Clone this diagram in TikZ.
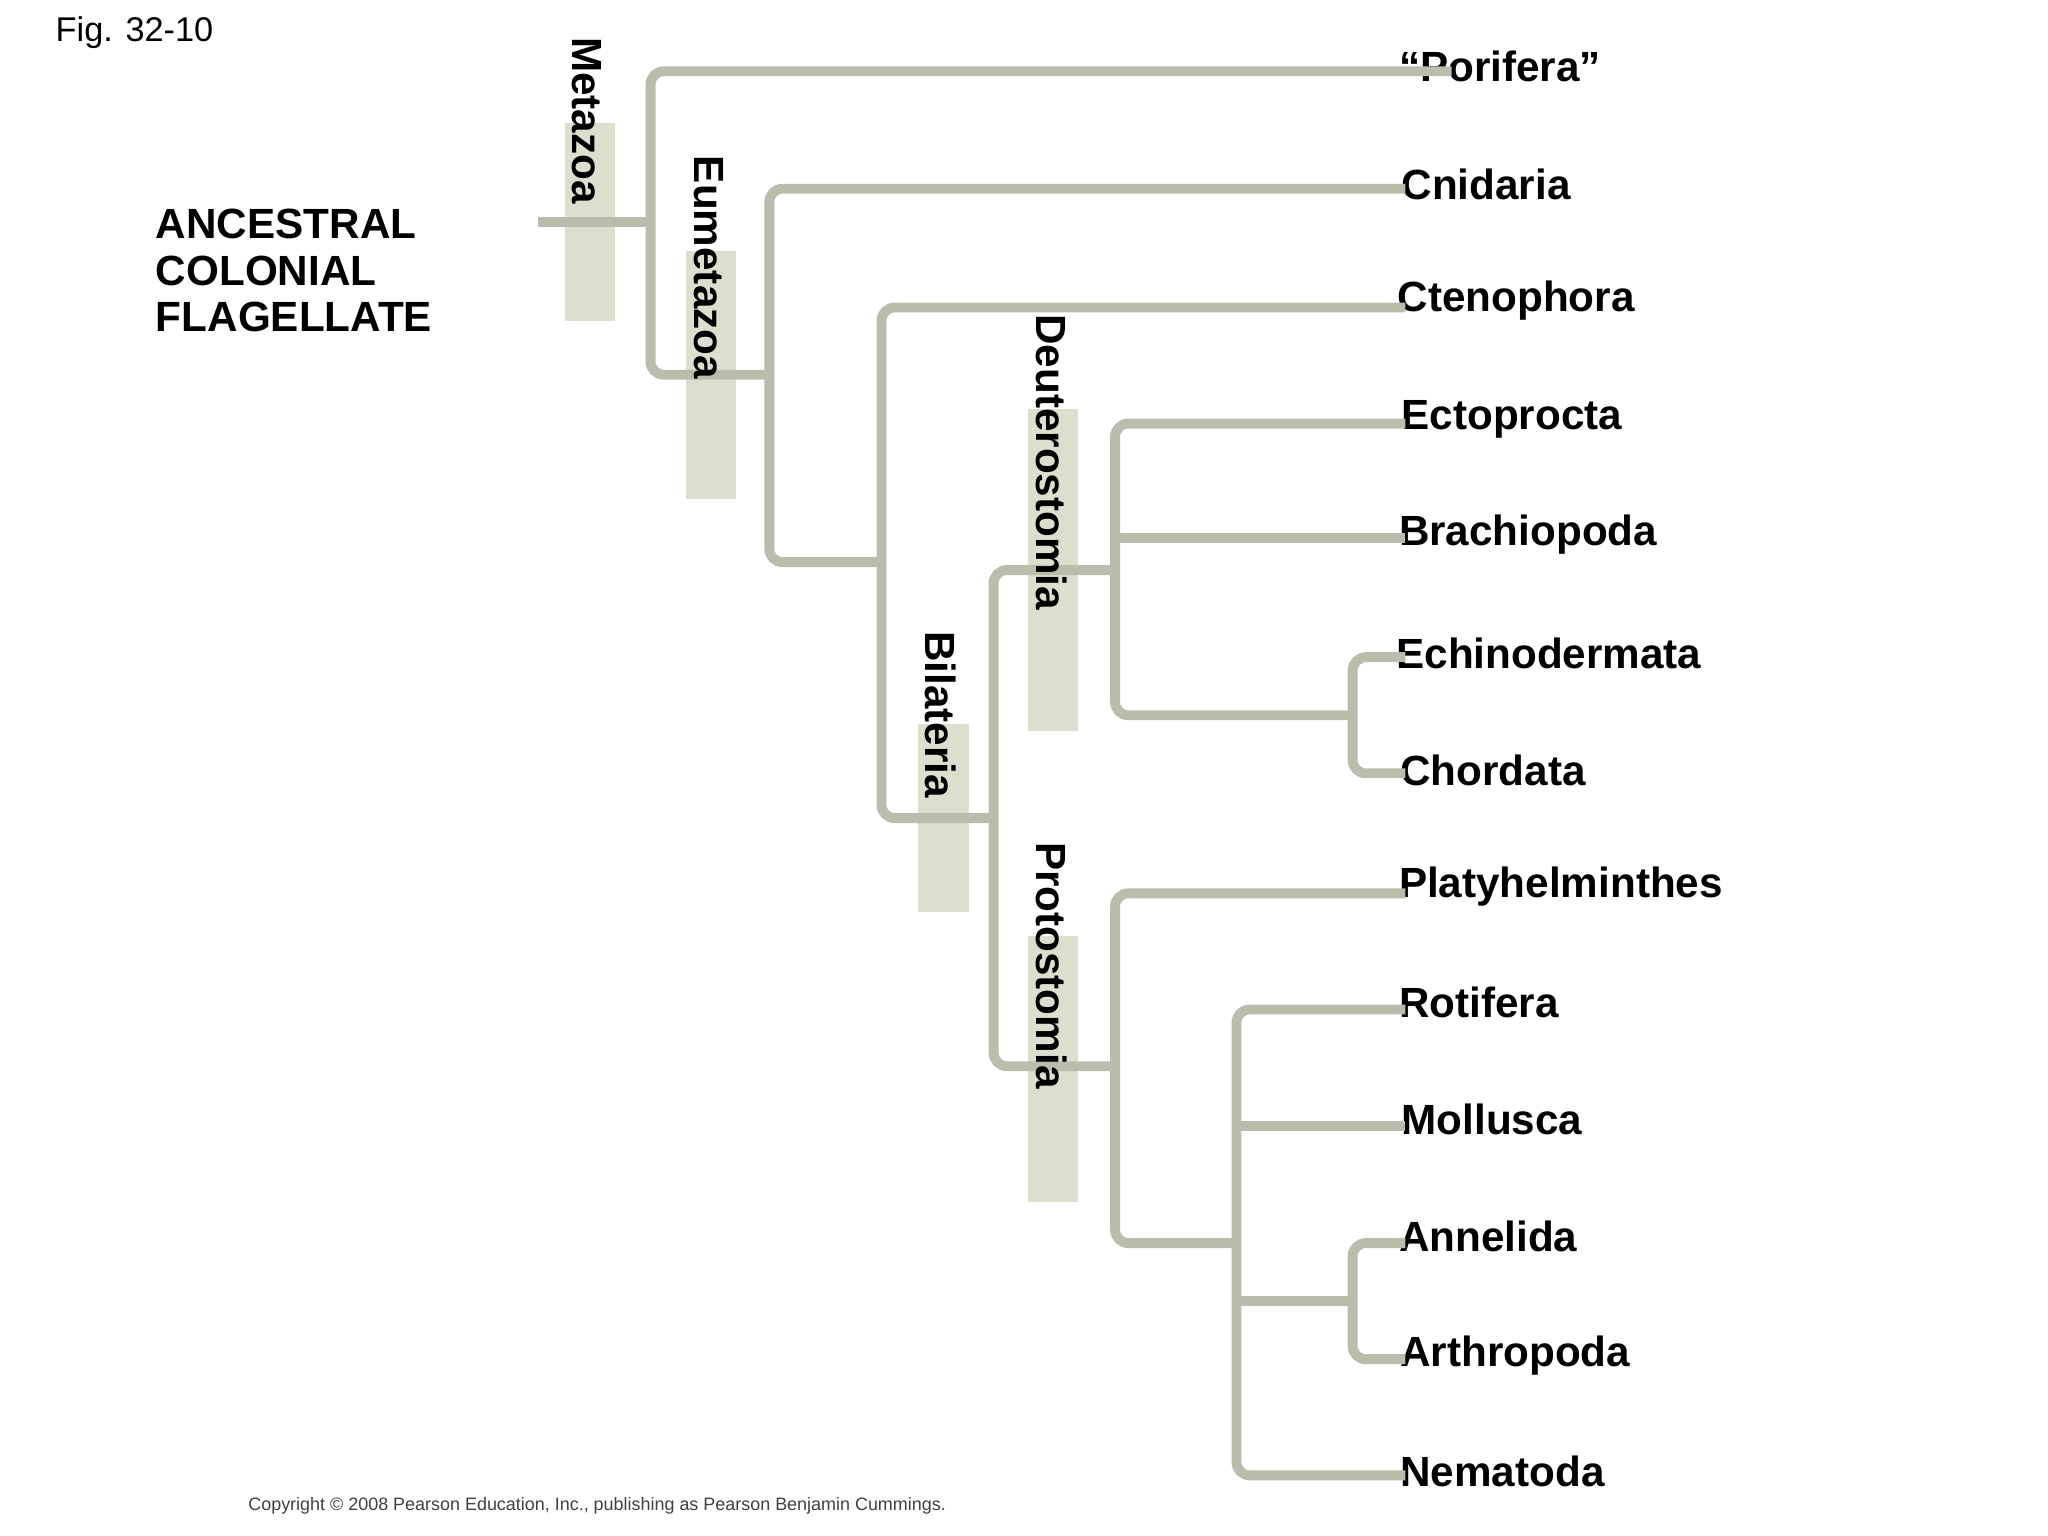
\documentclass[tikz,border=0pt]{standalone}
\usepackage{fontspec}
\setmainfont{Liberation Sans}
\begin{document}
\begin{tikzpicture}[x=1pt,y=-1pt,
  br/.style={draw=brc,line width=7.5pt,rounded corners=10pt},
  clade/.style={fill=boxc,draw=none},
  lab/.style={anchor=west,font=\fontsize{32}{36}\selectfont\bfseries,inner sep=0pt},
  rlab/.style={rotate=-90,font=\fontsize{32}{36}\selectfont\bfseries,inner sep=0pt}]
\definecolor{brc}{RGB}{187,189,172}
\definecolor{boxc}{RGB}{222,222,207}
\useasboundingbox[fill=white] (0,0) rectangle (1552,1164);
% clade boxes
\fill[boxc] (428,93) rectangle (466,243);
\fill[boxc] (520,190) rectangle (558,378);
\fill[boxc] (696,549) rectangle (734,691);
\fill[boxc] (779,310) rectangle (817,554);
\fill[boxc] (779,709) rectangle (817,911);
% coordinates
\coordinate (root) at (408,168);
\coordinate (n1) at (493,168);
\coordinate (n2) at (583,284);
\coordinate (n3) at (668,426);
\coordinate (n4) at (753,620);
\coordinate (nd) at (845,432);
\coordinate (np) at (845,808);
\coordinate (ne) at (1025,542);
\coordinate (nr) at (937,942);
\coordinate (na) at (1025,986);
% leaves
\node[lab] (por) at (1060,50) {“Porifera”};
\node[lab] (cni) at (1062,140) {Cnidaria};
\node[lab] (cte) at (1059,228) {Ctenophora};
\node[lab] (ect) at (1062,318) {Ectoprocta};
\node[lab] (bra) at (1060,405) {Brachiopoda};
\node[lab] (ech) at (1058,495) {Echinodermata};
\node[lab] (cho) at (1061,584) {Chordata};
\node[lab] (pla) at (1060,672) {Platyhelminthes};
\node[lab] (rot) at (1060,760) {Rotifera};
\node[lab] (mol) at (1062,848) {Mollusca};
\node[lab] (ann) at (1060,937) {Annelida};
\node[lab] (art) at (1061,1027) {Arthropoda};
\node[lab] (nem) at (1061,1115) {Nematoda};
\begin{scope}[on background layer/.try]
\draw[br,rounded corners=0pt] (root) -- (n1);
\draw[br] (1100,54) -| (493,284) -- (583,284);
\draw[br] (1065,143) -| (583,426) -- (668,426);
\draw[br] (1065,233) -| (668,620) -- (753,620);
\draw[br] (845,432) -| (753,808) -- (845,808);
\draw[br] (1065,321) -| (845,542) -- (1025,542);
\draw[br,rounded corners=0pt] (845,408) -- (1065,408);
\draw[br] (1065,498) -| (1025,586) -- (1065,586);
\draw[br] (1065,677) -| (845,942) -- (937,942);
\draw[br] (1065,765) -| (937,1118) -- (1065,1118);
\draw[br,rounded corners=0pt] (937,853) -- (1065,853);
\draw[br,rounded corners=0pt] (937,986) -- (1025,986);
\draw[br] (1065,942) -| (1025,1030) -- (1065,1030);
\end{scope}
% redraw labels on top
\foreach \n in {por,cni,cte,ect,bra,ech,cho,pla,rot,mol,ann,art,nem}{}
\node[rlab,anchor=west] (met) at (445,28) {Metazoa};
\node[rlab,anchor=west] (eum) at (537,118) {Eumetazoa};
\node[rlab,anchor=west] (deu) at (797,238) {Deuterostomia};
\node[rlab,anchor=west] (bil) at (713,478) {Bilateria};
\node[rlab,anchor=west] (pro) at (797,638) {Protostomia};
\node[anchor=north west,align=left,inner sep=0pt,font=\fontsize{32}{35.5}\selectfont\bfseries] (anc) at (118,158) {ANCESTRAL\\COLONIAL\\FLAGELLATE};
\node[anchor=west,inner sep=0pt,font=\fontsize{26}{30}\selectfont] (fig) at (42,25) {Fig. 32-10};
\node[anchor=west,inner sep=0pt,font=\fontsize{13.6}{16}\selectfont,text=black!75] (copy) at (188,1141) {Copyright © 2008 Pearson Education, Inc., publishing as Pearson Benjamin Cummings.};
\end{tikzpicture}
\end{document}
